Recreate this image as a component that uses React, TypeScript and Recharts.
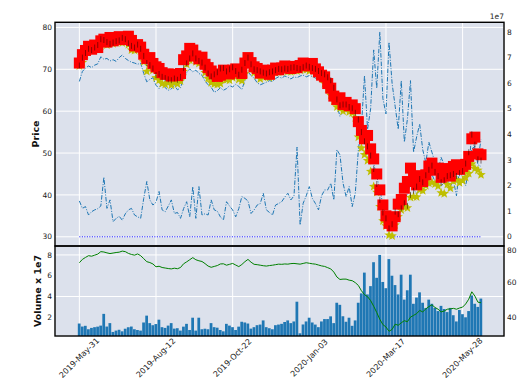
import React from "react";
import {
	ComposedChart,
	Line,
	Bar,
	Scatter,
	XAxis,
	YAxis,
	CartesianGrid,
	ReferenceLine,
} from "recharts";

// one point every two trading days, 2019-May-31 .. mid 2020
const closes = [
	70.9, 72.8, 73.9, 74.9, 74.6, 75.2, 75.8, 77.2, 77.0, 76.5,
	76.1, 76.4, 76.7, 76.9, 77.5, 77.2, 76.2, 75.6, 75.2, 75.9,
	74.9, 73.2, 71.5, 71.0, 70.2, 68.6, 68.9, 68.2, 67.9, 67.6,
	67.4, 67.8, 67.5, 68.2, 70.3, 71.4, 72.6, 73.8, 72.6, 72.0,
	71.6, 70.4, 69.0, 68.3, 68.8, 69.3, 70.2, 70.3, 69.5, 70.0,
	70.5, 69.6, 68.7, 69.9, 71.5, 72.8, 71.2, 70.0, 69.8, 69.5,
	69.2, 69.0, 69.3, 69.5, 69.8, 70.1, 70.0, 70.2, 70.1, 70.4,
	70.5, 70.3, 70.1, 70.5, 70.9, 70.6, 70.3, 70.1, 69.6, 69.1,
	68.8, 68.1, 67.4, 65.6, 62.8, 61.4, 61.6, 61.6, 61.0, 60.7,
	59.6, 58.0, 55.0, 52.8, 51.6, 49.4, 46.2, 42.6, 38.8, 35.8,
	34.4, 32.0, 33.0, 36.0, 35.4, 36.8, 38.0, 37.4, 40.0, 41.0,
	42.0, 43.8, 43.0, 44.7, 46.0, 47.0, 45.5, 44.5, 43.0, 43.5,
	44.5, 44.7, 45.0, 44.5, 45.2, 45.7, 47.5, 50.2, 54.4, 52.0,
	48.5, 48.2,
];

const highs = [
	71.5, 73.5, 74.5, 75.5, 74.8, 75.8, 75.2, 76.8, 77.2, 76.5,
	77.6, 76.8, 77.3, 77.8, 77.1, 77.6, 77.9, 76.9, 75.6, 75.9,
	75.3, 73.6, 72.6, 72.8, 71.4, 70.6, 70.2, 69.2, 68.8, 68.9,
	68.4, 68.8, 68.5, 69.0, 72.3, 73.2, 75.0, 74.6, 73.2, 72.5,
	72.9, 71.2, 70.4, 69.6, 68.9, 68.3, 68.6, 69.8, 69.2, 68.9,
	69.8, 70.1, 69.4, 69.0, 71.5, 72.8, 71.6, 70.6, 70.2, 69.1,
	69.8, 69.4, 68.8, 69.8, 70.3, 69.9, 70.3, 70.8, 70.5, 70.2,
	70.7, 70.4, 70.9, 71.5, 71.2, 70.8, 71.4, 70.1, 69.4, 68.6,
	68.2, 66.6, 65.5, 63.6, 62.8, 63.2, 61.6, 62.1, 61.3, 61.5,
	60.6, 57.5, 55.4, 53.4, 54.2, 51.0, 48.6, 45.0, 41.2, 37.6,
	35.0, 33.2, 32.6, 34.8, 37.8, 38.9, 41.6, 43.2, 46.4, 44.2,
	42.4, 44.6, 43.2, 44.8, 46.9, 47.6, 45.9, 46.4, 44.2, 45.6,
	46.3, 44.5, 46.8, 47.2, 46.1, 46.8, 47.3, 49.2, 53.4, 53.8,
	49.8, 49.6,
];

const lows = [
	70.8, 71.6, 73.5, 74.4, 74.6, 74.8, 74.9, 75.6, 76.0, 75.8,
	76.3, 76.1, 76.4, 76.8, 76.3, 76.6, 75.9, 74.6, 74.5, 74.8,
	74.4, 71.8, 69.5, 70.6, 69.8, 68.0, 67.4, 66.6, 66.4, 66.8,
	66.2, 66.9, 66.5, 67.2, 69.5, 71.2, 72.2, 72.9, 71.8, 71.4,
	71.0, 69.2, 67.8, 66.8, 66.5, 66.4, 66.6, 67.6, 67.5, 67.4,
	68.0, 68.4, 67.6, 67.3, 68.9, 71.1, 70.4, 69.2, 68.5, 67.7,
	68.1, 68.3, 68.0, 68.5, 69.2, 69.3, 69.4, 69.6, 69.5, 69.4,
	69.7, 69.6, 69.8, 70.0, 69.9, 69.6, 69.9, 69.0, 68.7, 67.9,
	66.6, 65.3, 63.8, 62.4, 61.0, 60.7, 60.0, 60.5, 59.8, 59.6,
	58.4, 53.8, 51.2, 49.6, 48.2, 45.6, 42.0, 40.6, 37.2, 33.8,
	32.6, 30.4, 30.2, 32.8, 34.8, 36.4, 37.2, 36.9, 39.4, 39.6,
	39.5, 41.2, 41.0, 42.2, 42.8, 43.0, 42.6, 42.1, 40.5, 40.3,
	42.5, 41.6, 43.3, 43.6, 42.9, 43.4, 44.2, 45.1, 47.4, 46.3,
	45.9, 44.8,
];

const lowerBand = [
	67.1, 69.5, 70.3, 70.8, 70.4, 71.0, 71.3, 73.0, 72.4, 72.6,
	72.0, 72.3, 71.9, 72.8, 73.4, 72.6, 72.1, 71.7, 71.5, 71.2,
	71.5, 69.0, 67.0, 67.6, 68.0, 66.2, 65.4, 66.8, 65.6, 65.0,
	65.3, 66.2, 65.1, 65.6, 67.8, 69.2, 70.1, 69.4, 69.8, 69.0,
	68.6, 67.2, 66.3, 65.7, 64.5, 64.9, 65.6, 65.0, 65.4, 66.1,
	65.8, 66.4, 65.9, 65.2, 67.3, 69.4, 68.5, 67.9, 66.8, 66.3,
	66.6, 66.9, 67.3, 67.1, 67.8, 68.2, 67.9, 68.4, 68.1, 67.7,
	68.2, 68.0, 68.4, 68.6, 68.2, 68.5, 68.3, 67.9, 67.6, 67.0,
	66.2, 65.4, 64.1, 62.6, 61.4, 58.8, 60.0, 60.3, 59.5, 59.9,
	58.4, 55.6, 53.5, 52.8, 52.1, 49.6, 47.4, 44.5, 41.2, 37.8,
	34.9, 32.0, 31.4, 33.6, 35.2, 36.5, 38.8, 40.3, 42.6, 41.5,
	40.2, 41.8, 40.9, 42.3, 43.6, 44.9, 43.2, 43.8, 42.1, 43.0,
	43.6, 41.9, 43.9, 44.6, 42.8, 43.5, 44.9, 47.8, 51.0, 51.6,
	47.2, 46.8,
];

// volume, units of 1e7
const volumes = [
	1.40, 1.11, 1.18, 0.85, 0.98, 1.05, 1.10, 1.20, 2.33, 1.11,
	1.44, 0.59, 0.72, 0.80, 0.65, 0.90, 1.05, 1.11, 0.85, 0.78,
	0.72, 1.50, 2.16, 1.44, 1.24, 1.35, 1.77, 1.05, 0.98, 1.20,
	1.44, 0.91, 0.95, 0.72, 1.10, 1.37, 0.78, 1.96, 0.72, 1.96,
	0.85, 0.90, 0.85, 1.44, 1.05, 1.00, 0.78, 0.65, 1.37, 1.20,
	1.05, 0.78, 1.10, 1.57, 1.50, 1.40, 0.91, 1.05, 1.24, 1.30,
	1.70, 1.05, 0.95, 0.85, 1.24, 1.30, 1.37, 1.55, 1.70, 1.44,
	1.60, 3.50, 0.46, 1.31, 1.60, 1.96, 1.50, 1.30, 1.05, 1.60,
	1.83, 1.83, 2.09, 1.44, 3.40, 3.20, 2.10, 1.57, 1.96, 1.18,
	1.70, 3.40, 4.30, 6.30, 4.20, 5.00, 7.30, 5.80, 8.00, 5.40,
	4.80, 7.60, 6.00, 5.10, 4.20, 6.10, 3.70, 4.60, 6.10, 3.30,
	3.90, 4.40, 3.40, 2.90, 3.70, 3.30, 2.90, 2.60, 3.10, 2.80,
	2.50, 2.90, 2.20, 1.60, 2.70, 2.30, 2.00, 2.60, 4.10, 3.30,
	3.00, 3.80,
];

const tickIdx = [0, 25, 50, 75, 100, 125];
const tickLabels = [
	"2019-May-31",
	"2019-Aug-12",
	"2019-Oct-22",
	"2020-Jan-03",
	"2020-Mar-17",
	"2020-May-28",
];
const priceTicks = [30, 40, 50, 60, 70, 80];
const volRightTicks = [0, 1, 2, 3, 4, 5, 6, 7, 8];
const volTicks = [2, 4, 6, 8];
const closeTicks = [40, 60, 80];

const rows = closes.map((c, i) => ({
	i,
	close: c,
	high: highs[i],
	low: lows[i],
	band: lowerBand[i],
	vol: volumes[i],
}));

const BG = "#dce1ec";
const FONT = "DejaVu Sans";
const tickStyle = { fontSize: 7.5, fill: "#222", fontFamily: FONT };
const X_DOMAIN = [-7.94, 138.5];

function SquareMark(props: any) {
	const { cx, cy } = props;
	return <rect x={cx - 5.5} y={cy - 5.5} width={11} height={11} fill="#ff0000" />;
}

// short dark tick, like the bar marks that show through the red band
function CloseTick(props: any) {
	const { cx, cy } = props;
	return <rect x={cx - 0.5} y={cy - 3} width={1} height={6} fill="#300000" opacity={0.55} />;
}

function StarMark(props: any) {
	const { cx, cy } = props;
	const pts: string[] = [];
	for (let k = 0; k < 10; k++) {
		const r = k % 2 === 0 ? 5 : 2.1;
		const a = -Math.PI / 2 + (k * Math.PI) / 5;
		pts.push(`${cx + r * Math.cos(a)},${cy + r * Math.sin(a)}`);
	}
	return <polygon points={pts.join(" ")} fill="#bfbf00" />;
}

function DateTick(props: any) {
	const { x, y, payload } = props;
	const label = tickLabels[tickIdx.indexOf(payload.value)];
	const cy = y + 22;
	return (
		<text
			x={x}
			y={cy}
			transform={`rotate(-45 ${x} ${cy})`}
			textAnchor="middle"
			dominantBaseline="central"
			fontSize={8}
			fill="#222"
			fontFamily={FONT}
		>
			{label}
		</text>
	);
}

export default function App() {
	return (
		<div
			style={{
				position: "absolute",
				left: 0,
				top: 0,
				width: 528,
				height: 388,
				background: "#fff",
				fontFamily: FONT,
			}}
		>
			<div style={{ position: "absolute", left: 0, top: 0 }}>
				<ComposedChart
					width={528}
					height={250}
					data={rows}
					margin={{ top: 22, right: 0, bottom: 4, left: 0 }}
				>
					<CartesianGrid yAxisId="price" stroke="#fff" strokeWidth={1} fill={BG} />
					<XAxis
						dataKey="i"
						type="number"
						domain={X_DOMAIN}
						ticks={tickIdx}
						allowDataOverflow
						hide
					/>
					<YAxis
						yAxisId="price"
						domain={[27.8, 81.3]}
						ticks={priceTicks}
						allowDataOverflow
						width={55}
						axisLine={false}
						tickLine={false}
						tickSize={0}
						tickMargin={3}
						tick={tickStyle}
						label={{
							value: "Price",
							angle: -90,
							position: "center",
							dx: 8,
							style: { fontSize: 9.5, fontWeight: "bold", fill: "#111", fontFamily: FONT },
						}}
					/>
					<YAxis
						yAxisId="volR"
						orientation="right"
						domain={[-0.36, 8.39]}
						ticks={volRightTicks}
						allowDataOverflow
						width={24}
						axisLine={false}
						tickLine={false}
						tickSize={0}
						tickMargin={3}
						tick={tickStyle}
					/>
					<ReferenceLine
						yAxisId="price"
						segment={[
							{ x: 0, y: 30 },
							{ x: closes.length - 1, y: 30 },
						]}
						stroke="#0000ff"
						strokeWidth={1}
						strokeDasharray="1 1.5"
					/>
					<Scatter
						yAxisId="price"
						dataKey="low"
						shape={StarMark}
						isAnimationActive={false}
					/>
					<Scatter
						yAxisId="price"
						dataKey="high"
						shape={SquareMark}
						isAnimationActive={false}
					/>
					<Scatter
						yAxisId="price"
						dataKey="close"
						shape={CloseTick}
						isAnimationActive={false}
					/>
					<Line
						yAxisId="price"
						dataKey="band"
						stroke="#1f77b4"
						strokeWidth={1}
						strokeDasharray="4.5 1.5 1 1.5"
						dot={false}
						activeDot={false}
						isAnimationActive={false}
					/>
					<Line
						yAxisId="volR"
						dataKey="vol"
						stroke="#1f77b4"
						strokeWidth={1}
						strokeDasharray="4.5 1.5 1 1.5"
						dot={false}
						activeDot={false}
						isAnimationActive={false}
					/>
				</ComposedChart>
			</div>

			<div style={{ position: "absolute", left: 0, top: 246 }}>
				<ComposedChart
					width={528}
					height={142}
					data={rows}
					margin={{ top: 0, right: 0, bottom: 0, left: 0 }}
				>
					<CartesianGrid yAxisId="vol" stroke="#fff" strokeWidth={1} fill={BG} />
					<XAxis
						dataKey="i"
						type="number"
						domain={X_DOMAIN}
						ticks={tickIdx}
						allowDataOverflow
						height={52}
						axisLine={false}
						tickLine={false}
						tickSize={0}
						tickMargin={0}
						tick={<DateTick />}
						interval={0}
					/>
					<YAxis
						yAxisId="vol"
						domain={[0.2, 8.86]}
						ticks={volTicks}
						allowDataOverflow
						width={55}
						axisLine={false}
						tickLine={false}
						tickSize={0}
						tickMargin={3}
						tick={tickStyle}
						label={{
							value: "Volume x 1e7",
							angle: -90,
							position: "center",
							dx: 10,
							style: { fontSize: 9.5, fontWeight: "bold", fill: "#111", fontFamily: FONT },
						}}
					/>
					<YAxis
						yAxisId="closeR"
						orientation="right"
						domain={[29.3, 80.4]}
						ticks={closeTicks}
						allowDataOverflow
						width={24}
						axisLine={false}
						tickLine={false}
						tickSize={0}
						tickMargin={3}
						tick={tickStyle}
					/>
					<Bar
						yAxisId="vol"
						dataKey="vol"
						fill="#1f77b4"
						barSize={3.1}
						isAnimationActive={false}
					/>
					<Line
						yAxisId="closeR"
						dataKey="close"
						stroke="#008000"
						strokeWidth={1}
						dot={false}
						activeDot={false}
						isAnimationActive={false}
					/>
				</ComposedChart>
			</div>

			<svg
				width={528}
				height={388}
				style={{ position: "absolute", left: 0, top: 0, pointerEvents: "none" }}
			>
				<rect x={55} y={22.3} width={449} height={223.7} fill="none" stroke="#000" strokeWidth={1.4} />
				<rect x={55} y={246} width={449} height={90} fill="none" stroke="#000" strokeWidth={1.4} />
			</svg>
			<div
				style={{
					position: "absolute",
					right: 24,
					top: 12,
					fontSize: 7.5,
					color: "#222",
					fontFamily: FONT,
				}}
			>
				1e7
			</div>
		</div>
	);
}
